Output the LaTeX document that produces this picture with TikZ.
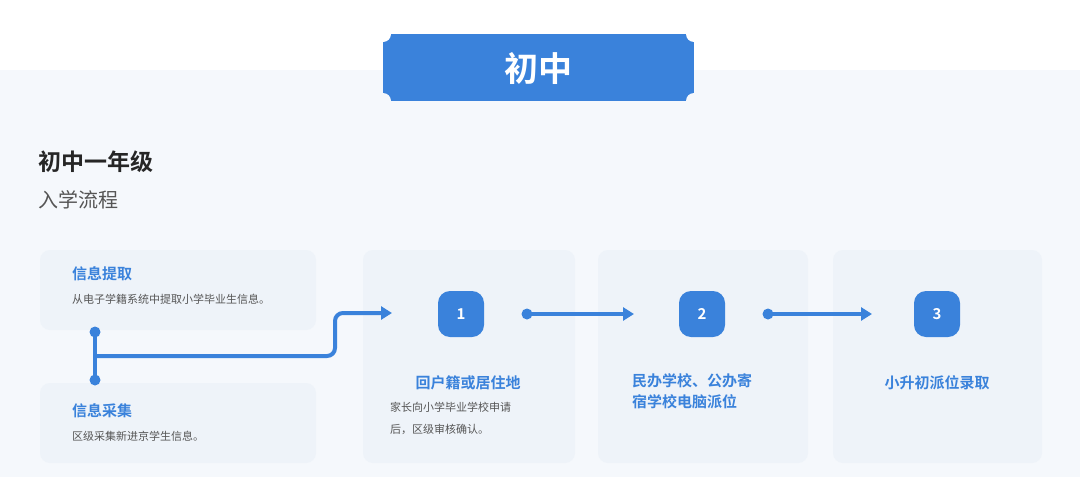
\documentclass[tikz,border=0pt]{standalone}
\usepackage{fontspec}
\setmainfont{Noto Sans CJK SC}[BoldFont={Noto Sans CJK SC Bold}]
\usetikzlibrary{arrows.meta}
\definecolor{mainblue}{HTML}{3A82DB}
\definecolor{cardbg}{HTML}{EEF3F9}
\definecolor{panelbg}{HTML}{F5F8FC}
\definecolor{txtgray}{HTML}{555555}
\tikzset{
 card/.style={fill=cardbg,rounded corners=10pt,draw=none},
 numbox/.style={fill=mainblue,rounded corners=12pt,minimum width=46pt,minimum height=46pt,text=white,font=\bfseries\fontsize{15}{15}\selectfont,inner sep=0pt},
 ctitle/.style={text=mainblue,font=\bfseries\fontsize{15}{20}\selectfont,inner sep=0pt},
 cdesc/.style={text=txtgray,font=\fontsize{11}{22}\selectfont,inner sep=0pt},
 link/.style={draw=mainblue,line width=4pt},
 dotc/.style={circle,fill=mainblue,inner sep=0pt,minimum size=11pt},
 arr/.style={link,-{Triangle[length=11pt,width=13pt]}},
}
\begin{document}
\begin{tikzpicture}[x=1pt,y=-1pt]
\useasboundingbox (0,0) rectangle (1080,477);
\fill[white] (0,0) rectangle (1080,477);
\fill[panelbg] (0,70) rectangle (1080,477);
% banner
\fill[mainblue] (383,34) rectangle (694,101);
\fill[white] (383,34) circle[radius=8] (694,34) circle[radius=8];
\fill[panelbg] (383,101) circle[radius=8] (694,101) circle[radius=8];
\node (banner) at (538.5,68) {\textcolor{white}{\bfseries\fontsize{34}{34}\selectfont 初中}};
% headings
\node[anchor=west,inner sep=0pt,text=black!85,font=\bfseries\fontsize{23}{23}\selectfont] (h1) at (38,162) {初中一年级};
\node[anchor=west,inner sep=0pt,text=txtgray,font=\fontsize{20}{20}\selectfont] (h2) at (38,200) {入学流程};
% cards
\fill[card] (40,250) rectangle (316,330);
\fill[card] (40,383) rectangle (316,463);
\fill[card] (363,250) rectangle (575,463);
\fill[card] (598,250) rectangle (808,463);
\fill[card] (833,250) rectangle (1042,463);
% left boxes text
\node[ctitle,anchor=west] (t1) at (72,274) {信息提取};
\node[cdesc,anchor=west] (d1) at (72,299) {从电子学籍系统中提取小学毕业生信息。};
\node[ctitle,anchor=west] (t2) at (72,411) {信息采集};
\node[cdesc,anchor=west] (d2) at (72,436) {区级采集新进京学生信息。};
% numbers
\node[numbox] (n1) at (461,314) {1};
\node[numbox] (n2) at (702,314) {2};
\node[numbox] (n3) at (937,314) {3};
% card texts
\node[ctitle] (c1) at (468,383) {回户籍或居住地};
\node[cdesc,anchor=north west,align=left] (c1d) at (390,402) {家长向小学毕业学校申请\\后，区级审核确认。};
\node[ctitle,anchor=north west,align=left,font=\bfseries\fontsize{15}{21}\selectfont] (c2) at (632,373) {民办学校、公办寄\\宿学校电脑派位};
\node[ctitle] (c3) at (937,383) {小升初派位录取};
% connectors
\node[dotc] (p1) at (95,332) {};
\node[dotc] (p2) at (95,380) {};
\coordinate (j) at (95,356);
\coordinate (tgt) at (392,313);
\draw[link] (p1.center) -- (p2.center);
\draw[arr,rounded corners=8pt] (j) -- (335,356) -- (335,313) -- (tgt);
\node[dotc] (q1) at (527,314) {};
\coordinate (e1) at (634,314);
\draw[arr] (q1.center) -- (e1);
\node[dotc] (q2) at (768,314) {};
\coordinate (e2) at (872,314);
\draw[arr] (q2.center) -- (e2);
\end{tikzpicture}
\end{document}
